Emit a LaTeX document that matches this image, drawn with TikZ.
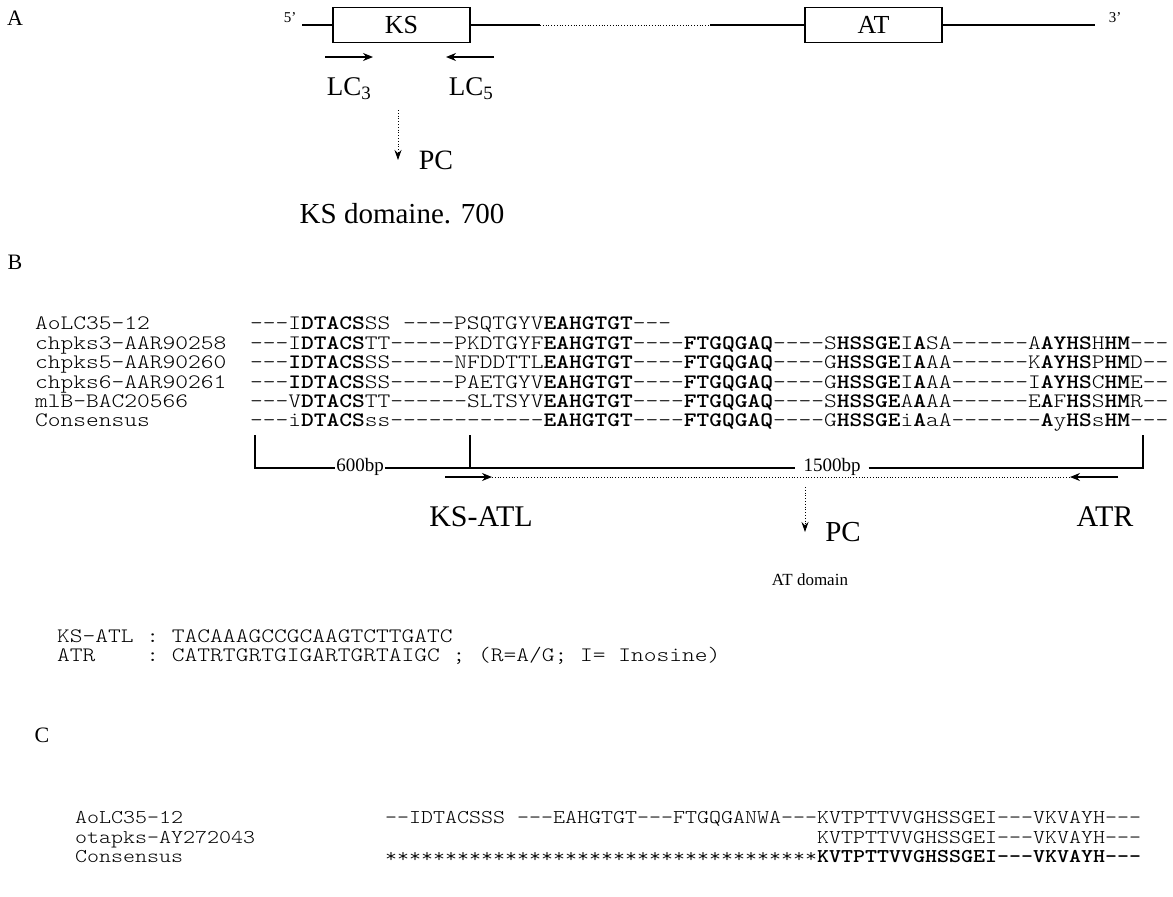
\documentclass[tikz,border=0pt]{standalone}
\usepackage{fontspec}
\usepackage{graphicx}
\setmainfont{Liberation Serif}
\usetikzlibrary{arrows.meta}
\newcommand\monoB[1]{\scalebox{1.185}[1]{\ttfamily\fontseries{l}\selectfont #1}}
\newcommand\monoC[1]{\scalebox{1.172}[1]{\ttfamily\fontseries{l}\selectfont #1}}
\begin{document}
\begin{tikzpicture}[x=1pt,y=-1pt,
  seqb/.style={anchor=base west, inner sep=0pt, font=\fontsize{20.5}{20.5}\selectfont},
  seqc/.style={anchor=base west, inner sep=0pt, font=\fontsize{19.5}{19.5}\selectfont},
  panel/.style={inner sep=0pt, font=\fontsize{22}{22}\selectfont},
  dom/.style={draw, line width=1.1pt, minimum width=137pt, minimum height=35pt, inner sep=0pt, font=\fontsize{26}{26}\selectfont},
  small/.style={inner sep=0pt, font=\fontsize{15}{15}\selectfont},
  big/.style={inner sep=0pt, font=\fontsize{29}{29}\selectfont},
  ln/.style={line width=1.1pt},
  dotln/.style={dotted, line width=0.8pt},
  arr/.style={line width=1.1pt, -{Stealth[length=10pt,width=8pt]}},
  darr/.style={dotted, line width=0.8pt, -{Stealth[length=10pt,width=7pt]}}
]
\useasboundingbox (0,0) rectangle (1173,897);

% ---------------- Panel A
\node[panel] (labA) at (15,18) {A};
\node[small] (p5) at (290,18) {5’};
\node[dom] (ks) at (401.5,25) {KS};
\node[dom] (at) at (873.5,25) {AT};
\node[small] (p3) at (1115,18) {3’};
\coordinate (a0) at (302,25);
\coordinate (a1) at (540,25);
\coordinate (a2) at (710,25);
\coordinate (a3) at (1095,25);
\draw[ln] (a0) -- (ks.west);
\draw[ln] (ks.east) -- (a1);
\draw[dotln] (a1) -- (a2);
\draw[ln] (a2) -- (at.west);
\draw[ln] (at.east) -- (a3);
\coordinate (lc3s) at (325,57);
\coordinate (lc3e) at (373,57);
\coordinate (lc5s) at (494,57);
\coordinate (lc5e) at (446,57);
\draw[arr] (lc3s) -- (lc3e);
\draw[arr] (lc5s) -- (lc5e);
\node[big, font=\fontsize{27}{27}\selectfont] (lc3) at (349,89) {LC\textsubscript{3}};
\node[big, font=\fontsize{27}{27}\selectfont] (lc5) at (471,89) {LC\textsubscript{5}};
\coordinate (pcs) at (398,110);
\coordinate (pce) at (398,160);
\draw[darr] (pcs) -- (pce);
\node[big, font=\fontsize{28}{28}\selectfont] (pcA) at (436,160) {PC};
\node[big] (ksd) at (402,214) {KS domaine. 700};

% ---------------- Panel B
\node[panel] (labB) at (15,262) {B};
\node[seqb] (n1) at (35,329) {\monoB{AoLC35-12}};
\node[seqb] (n2) at (35,349) {\monoB{chpks3-AAR90258}};
\node[seqb] (n3) at (35,368) {\monoB{chpks5-AAR90260}};
\node[seqb] (n4) at (35,388) {\monoB{chpks6-AAR90261}};
\node[seqb] (n5) at (35,407) {\monoB{mlB-BAC20566}};
\node[seqb] (n6) at (35,426) {\monoB{Consensus}};
\node[seqb] (s1) at (250,329) {\monoB{---I\textbf{DTACS}SS ----PSQTGYV\textbf{EAHGTGT}---}};
\node[seqb] (s2) at (250,349) {\monoB{---I\textbf{DTACS}TT-----PKDTGYF\textbf{EAHGTGT}----\textbf{FTGQGAQ}----S\textbf{HSSGE}I\textbf{A}SA------A\textbf{AYHS}H\textbf{HM}---}};
\node[seqb] (s3) at (250,368) {\monoB{---\textbf{IDTACS}SS-----NFDDTTL\textbf{EAHGTGT}----\textbf{FTGQGAQ}----G\textbf{HSSGE}I\textbf{A}AA------K\textbf{AYHS}P\textbf{HM}D--}};
\node[seqb] (s4) at (250,388) {\monoB{---\textbf{IDTACS}SS-----PAETGYV\textbf{EAHGTGT}----\textbf{FTGQGAQ}----G\textbf{HSSGE}I\textbf{A}AA------I\textbf{AYHS}C\textbf{HM}E--}};
\node[seqb] (s5) at (250,407) {\monoB{---V\textbf{DTACS}TT------SLTSYV\textbf{EAHGTGT}----\textbf{FTGQGAQ}----S\textbf{HSSGE}A\textbf{A}AA------E\textbf{A}F\textbf{HS}S\textbf{HM}R--}};
\node[seqb] (s6) at (250,426) {\monoB{---i\textbf{DTACS}ss------------\textbf{EAHGTGT}----\textbf{FTGQGAQ}----G\textbf{HSSGE}i\textbf{A}aA-------\textbf{A}y\textbf{HS}s\textbf{HM}---}};

% bracket
\coordinate (bl) at (255,435);
\coordinate (blb) at (255,468);
\coordinate (bm) at (470,435);
\coordinate (bmb) at (470,468);
\coordinate (br) at (1143,435);
\coordinate (brb) at (1143,468);
\node[small, font=\fontsize{19}{19}\selectfont, inner xsep=1pt] (bp600) at (360,467) {600bp};
\node[small, font=\fontsize{19}{19}\selectfont, inner xsep=8pt] (bp1500) at (832,467) {1500bp};
\draw[ln] (bl) -- (blb) -- (bp600.west |- blb);
\draw[ln] (bp600.east |- bmb) -- (bmb);
\draw[ln] (bm) -- (bmb) -- (bp1500.west |- bmb);
\draw[ln] (bp1500.east |- brb) -- (brb) -- (br);
% primers
\coordinate (k1) at (445,477);
\coordinate (k2) at (492,477);
\coordinate (r1) at (1118,477);
\coordinate (r2) at (1070,477);
\draw[arr] (k1) -- (k2);
\draw[dotln] (k2) -- (r2);
\draw[arr] (r1) -- (r2);
\coordinate (pb1) at (805,487);
\coordinate (pb2) at (805,532);
\draw[darr] (pb1) -- (pb2);
\node[big, font=\fontsize{30}{30}\selectfont] (ksatl) at (481,517) {KS-ATL};
\node[big, font=\fontsize{30}{30}\selectfont] (atr) at (1105,517) {ATR};
\node[big] (pcB) at (843,532) {PC};
\node[small, font=\fontsize{17}{17}\selectfont] (atd) at (810,580) {AT domain};

\node[seqb] (pr1) at (57,642) {\monoB{KS-ATL : TACAAAGCCGCAAGTCTTGATC}};
\node[seqb] (pr2) at (57,661) {\monoB{ATR\ \ \ \ : CATRTGRTGIGARTGRTAIGC ; (R=A/G; I= Inosine)}};

% ---------------- Panel C
\node[panel] (labC) at (42,735) {C};
\node[seqc] (c1) at (75,823) {\monoC{AoLC35-12}};
\node[seqc] (c2) at (75,843) {\monoC{otapks-AY272043}};
\node[seqc] (c3) at (75,862) {\monoC{Consensus}};
\node[seqc] (t1) at (385,823) {\monoC{--IDTACSSS ---EAHGTGT---FTGQGANWA---KVTPTTVVGHSSGEI---VKVAYH---}};
\node[seqc] (t2) at (385,843) {\monoC{\hphantom{************************************}KVTPTTVVGHSSGEI---VKVAYH---}};
\node[seqc] (t3) at (385,862) {\monoC{************************************\textbf{KVTPTTVVGHSSGEI---VKVAYH---}}};
\end{tikzpicture}
\end{document}
